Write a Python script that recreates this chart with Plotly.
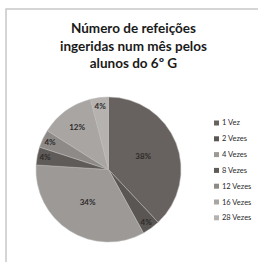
import plotly.graph_objects as go

categories = ["1 Vez", "2 Vezes", "4 Vezes", "8 Vezes", "12 Vezes", "16 Vezes", "28 Vezes"]
percentages = [38, 4, 34, 4, 4, 12, 4]
colors = ["#67625f", "#5a5653", "#9c9997", "#5f5b58", "#8d8a88", "#a8a5a3", "#b5b2b0"]

W, H = 258, 262

fig = go.Figure(go.Pie(
    labels=categories,
    values=percentages,
    sort=False,
    direction="clockwise",
    rotation=0,
    marker=dict(colors=colors, line=dict(color="#bdbab8", width=0.5)),
    texttemplate="%{percent:.0%}",
    textposition="inside",
    insidetextorientation="horizontal",
    textfont=dict(family="Lato", size=8, color="#2e2b2a", weight="bold"),
    domain=dict(x=[35 / W, 182 / W], y=[1 - 242 / H, 1 - 97 / H]),
    showlegend=False,
))

# Legend drawn as small squares + labels (compact spacing like the original)
leg_x = 214 / W
leg_y0 = 123
leg_dy = 15.8
shapes = [dict(
    type="rect", xref="paper", yref="paper",
    x0=6 / W, x1=1.05, y0=-0.05, y1=1 - 9 / H,
    line=dict(color="#c8c8c8", width=1.5),
)]
annotations = [dict(
    text="Número de refeições<br>ingeridas num mês pelos<br>alunos do 6º G",
    x=133 / W, y=1 - 18 / H, xref="paper", yref="paper",
    xanchor="center", yanchor="top", showarrow=False,
    font=dict(family="Lato", size=13.5, color="#1a1a1a", weight="bold"),
)]
for i, (cat, col) in enumerate(zip(categories, colors)):
    yc = leg_y0 + i * leg_dy
    shapes.append(dict(
        type="rect", xref="paper", yref="paper",
        x0=leg_x, x1=leg_x + 5 / W,
        y0=1 - (yc + 2.5) / H, y1=1 - (yc - 2.5) / H,
        fillcolor=col, line=dict(width=0),
    ))
    annotations.append(dict(
        text=cat, x=leg_x + 6 / W, y=1 - yc / H,
        xref="paper", yref="paper", xanchor="left", yanchor="middle",
        showarrow=False,
        font=dict(family="Liberation Sans Narrow, Lato", size=7.5, color="#2a2a2a"),
    ))

fig.update_layout(
    width=W, height=H,
    margin=dict(l=0, r=0, t=0, b=0),
    paper_bgcolor="white",
    plot_bgcolor="white",
    annotations=annotations,
    shapes=shapes,
)

fig.write_html(
    "out.html",
    config={"displayModeBar": False},
    post_script="document.body.style.margin='0';document.body.style.overflow='hidden';",
)
